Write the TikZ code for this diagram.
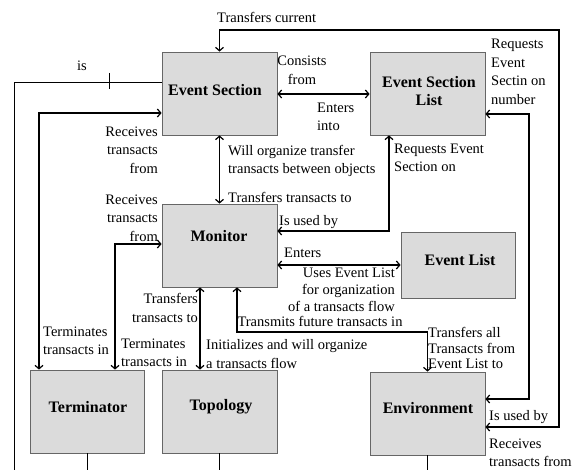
\documentclass[tikz,border=0pt]{standalone}
\usepackage{fontspec}
\setmainfont{Liberation Serif}
\usetikzlibrary{arrows.meta}
\begin{document}
\begin{tikzpicture}[x=1pt,y=-1pt,
  box/.style={draw=black!60,fill=black!14,line width=0.8pt,minimum width=115pt,minimum height=83pt,inner sep=0pt},
  boxtext/.style={font=\fontsize{16}{18}\selectfont\bfseries,align=center,inner sep=0pt},
  lbl/.style={font=\fontsize{14.5}{18.5}\selectfont,inner sep=0pt},
  conn/.style={line width=1.2pt},
  thinconn/.style={line width=0.8pt},
  both/.style={line width=1.2pt,{Straight Barb[length=3.5pt,width=8pt]}-{Straight Barb[length=3.5pt,width=8pt]}}
]
\useasboundingbox (0,0) rectangle (586,470);
% boxes
\node[box] (es)  at (219.5,93.5) {};
\node[box] (esl) at (427.5,93.5) {};
\node[box] (mon) at (219.5,245.5) {};
\node[box,minimum width=114pt,minimum height=66pt] (el) at (458,265) {};
\node[box,minimum width=114pt] (term) at (87,411.5) {};
\node[box] (topo) at (219.5,411.5) {};
\node[box] (env) at (427.5,413.5) {};
% box texts
\node[boxtext] (esT)   at (215,90) {Event Section};
\node[boxtext,font=\fontsize{16}{18.5}\selectfont\bfseries] (eslT) at (429,91) {Event Section\\List};
\node[boxtext] (monT)  at (219,236) {Monitor};
\node[boxtext] (elT)   at (460,260) {Event List};
\node[boxtext] (termT) at (88,407) {Terminator};
\node[boxtext] (topoT) at (221,407) {Topology};
\node[boxtext] (envT)  at (428,408) {Environment};
% free ends
\coordinate (isEnd) at (14,470);
\coordinate (termEnd) at (87,470);
\coordinate (topoEnd) at (219.5,470);
\coordinate (envEnd) at (427.5,470);
% connectors
\draw[both] (env.east |- 0,427) -| (559,30) -| (es.north);
\draw[thinconn] (es.west |- 0,82) -| (isEnd);
\draw[thinconn] (109,73) -- (109,89);
\draw[both] (term.north -| 39,0) |- (es.west |- 0,113);
\draw[both] (term.north -| 115,0) |- (mon.west |- 0,244);
\draw[both] (mon.south -| 200,0) -- (topo.north -| 200,0);
\draw[both] (mon.south -| 237,0) |- (427.5,332) -- (env.north);
\draw[both] (mon.east |- 0,265) -- (el.west |- 0,265);
\draw[both] (esl.south -| 389,0) |- (mon.east |- 0,231);
\draw[both] (es.south) -- (mon.north);
\draw[both] (es.east |- 0,94) -- (esl.west |- 0,94);
\draw[both] (esl.east |- 0,114) -| (529,399) -- (env.east |- 0,399);
\draw[thinconn] (term.south) -- (termEnd);
\draw[thinconn] (topo.south) -- (topoEnd);
\draw[thinconn] (env.south) -- (envEnd);
% labels
\node[lbl,anchor=west] (l1) at (217,17) {Transfers current};
\node[lbl] (l2) at (82,66) {is};
\node[lbl,align=center,font=\fontsize{14.5}{19}\selectfont] (l3) at (302,70) {Consists\\from};
\node[lbl,align=left,anchor=west] (l4) at (317,117) {Enters\\into};
\node[lbl,align=left,anchor=west] (l5) at (491,72) {Requests\\Event\\Sectin on\\number};
\node[lbl,align=right,anchor=east] (l6) at (158,150) {Receives\\transacts\\from};
\node[lbl,align=left,anchor=west,font=\fontsize{14.5}{18}\selectfont] (l7) at (228,161) {Will organize transfer\\transacts between objects};
\node[lbl,anchor=west] (l8) at (228,197) {Transfers transacts to};
\node[lbl,align=left,anchor=west] (l9) at (394,158) {Requests Event\\Section on};
\node[lbl,anchor=west] (l10) at (279,222) {Is used by};
\node[lbl,align=right,anchor=east] (l11) at (158,218) {Receives\\transacts\\from};
\node[lbl,anchor=west] (l12) at (284,253) {Enters};
\node[lbl,align=right,anchor=east,font=\fontsize{14.5}{17}\selectfont] (l13) at (395,290) {Uses Event List\\for organization\\of a transacts flow};
\node[lbl] (l14) at (320,321) {Transmits future transacts in};
\node[lbl,align=right,anchor=east] (l15) at (198,308) {Transfers\\transacts to};
\node[lbl,align=left,anchor=west] (l16) at (206,354) {Initializes and will organize\\a transacts flow};
\node[lbl,align=left,anchor=west] (l17) at (43,341) {Terminates\\transacts in};
\node[lbl,align=left,anchor=west] (l18) at (121,353) {Terminates\\transacts in};
\node[lbl,align=left,anchor=west,font=\fontsize{14.5}{15.5}\selectfont] (l19) at (428,348) {Transfers all\\Transacts from\\Event List to};
\node[lbl,anchor=west] (l20) at (489,417) {Is used by};
\node[lbl,align=left,anchor=west] (l21) at (489,453) {Receives\\transacts from};
\end{tikzpicture}
\end{document}
